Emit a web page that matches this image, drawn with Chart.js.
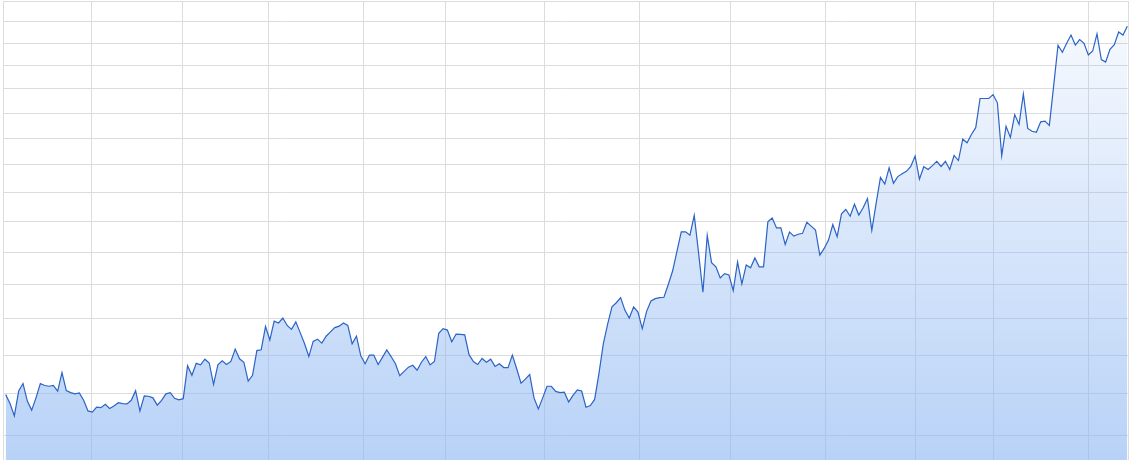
<!DOCTYPE html>
<html>
<head>
<meta charset="utf-8">
<script src="https://cdn.jsdelivr.net/npm/chart.js@4.4.1/dist/chart.umd.min.js"></script>
<style>
  html, body { margin: 0; padding: 0; background: #ffffff; }
  #wrap { width: 1132px; height: 462px; position: relative; }
</style>
</head>
<body>
<div id="wrap"><canvas id="c"></canvas></div>
<script>
// Daily closing values (one point per trading day, ~1 year)
const closes = [
  144.8, 142.6, 139.6, 145.7, 147.6, 143.2, 141.0, 144.0, 147.6, 147.1,
  146.9, 147.1, 145.7, 150.4, 145.8, 145.3, 145.0, 145.2, 143.4, 140.8,
  140.5, 141.7, 141.6, 142.4, 141.4, 142.0, 142.8, 142.6, 142.5, 143.4,
  145.8, 140.8, 144.5, 144.4, 144.0, 142.2, 143.4, 145.0, 145.3, 143.9,
  143.5, 143.8, 152.2, 149.7, 152.8, 152.4, 153.9, 152.9, 147.4, 152.4,
  153.5, 152.5, 153.3, 156.6, 154.0, 153.1, 148.2, 149.7, 156.2, 156.4,
  162.8, 159.1, 164.3, 163.8, 165.2, 163.1, 162.0, 164.1, 161.1, 158.1,
  154.6, 158.7, 159.3, 158.2, 160.1, 161.3, 162.5, 162.9, 163.8, 163.1,
  158.0, 160.1, 154.8, 152.7, 155.0, 155.0, 152.5, 154.4, 156.4, 154.6,
  152.7, 149.6, 150.7, 151.8, 152.3, 151.0, 153.1, 154.6, 152.4, 153.3,
  160.9, 162.2, 161.8, 158.6, 160.7, 160.6, 160.5, 155.1, 153.3, 152.5,
  154.1, 153.1, 153.9, 152.0, 152.7, 151.7, 151.7, 155.0, 151.4, 147.7,
  148.7, 149.9, 144.0, 141.3, 144.0, 146.9, 146.9, 145.6, 145.3, 145.4,
  143.0, 144.6, 146.0, 145.7, 141.7, 142.1, 143.6, 150.2, 158.0, 163.5,
  168.4, 169.6, 171.1, 167.4, 165.2, 168.4, 166.9, 162.2, 167.1, 170.1,
  170.8, 171.1, 171.2, 175.0, 179.1, 185.3, 191.6, 191.6, 190.5, 197.1,
  184.8, 172.7, 190.4, 181.7, 180.4, 177.0, 178.3, 177.9, 173.2, 181.9,
  175.2, 181.0, 180.1, 183.2, 180.4, 180.4, 194.9, 196.2, 192.9, 192.9,
  187.5, 191.5, 190.2, 190.8, 191.1, 194.8, 193.5, 192.2, 184.1, 186.2,
  188.9, 194.0, 190.0, 197.6, 199.1, 196.8, 200.9, 197.2, 199.7, 202.9,
  192.1, 201.2, 210.4, 208.0, 213.9, 208.3, 210.7, 211.7, 212.6, 214.4,
  218.3, 209.8, 214.3, 213.3, 214.7, 216.3, 214.4, 216.3, 213.3, 218.5,
  216.6, 224.7, 223.3, 226.5, 229.2, 241.0, 241.0, 241.0, 242.6, 239.2,
  218.4, 229.7, 225.4, 234.4, 230.5, 242.9, 228.9, 227.8, 227.4, 231.5,
  231.8, 230.1, 246.4, 264.1, 260.9, 265.0, 268.8, 264.2, 266.7, 265.0,
  259.7, 261.5, 269.3, 257.7, 256.6, 262.3, 264.4, 270.2, 268.8, 272.9
];

// Day index of each point
const days = closes.map((_, i) => i);

// Month boundaries (in trading-day index) where vertical grid lines fall
const monthBreaks = [19.8, 40.8, 60.7, 82.6, 101.6, 124.4, 146.3, 167.3, 189.4, 210.1, 228.1, 250.0];

// Price levels of the horizontal grid lines (log scale)
const priceLevels = [135, 145, 155, 165, 175, 185, 195, 205, 215, 225, 235, 245, 255, 265, 275, 285];

// Axis range
const xRange = [-0.62, 259.16];
const yRange = [129.4, 285];

const points = days.map((d, i) => ({ x: d, y: closes[i] }));

function areaGradient(context) {
  const chart = context.chart;
  const area = chart.chartArea;
  if (!area) return 'rgba(140,182,242,0.4)';
  const g = chart.ctx.createLinearGradient(0, area.bottom, 0, area.top);
  g.addColorStop(0, 'rgba(140,182,242,0.62)');
  g.addColorStop(1, 'rgba(140,182,242,0.05)');
  return g;
}

new Chart(document.getElementById('c'), {
  type: 'line',
  data: {
    datasets: [{
      data: points,
      borderColor: '#2b63c6',
      borderWidth: 1.2,
      backgroundColor: areaGradient,
      fill: 'start',
      pointRadius: 0,
      pointHoverRadius: 0,
      tension: 0
    }]
  },
  options: {
    responsive: true,
    maintainAspectRatio: false,
    animation: false,
    devicePixelRatio: 1,
    layout: { padding: { left: 3, right: 4, top: 1, bottom: 2 } },
    plugins: { legend: { display: false }, tooltip: { enabled: false } },
    scales: {
      x: {
        type: 'linear',
        min: xRange[0],
        max: xRange[1],
        bounds: 'data',
        afterBuildTicks: (scale) => {
          scale.ticks = [xRange[0], ...monthBreaks, xRange[1]].map(v => ({ value: v }));
        },
        ticks: { display: false },
        grid: { color: '#dcdcdc', lineWidth: 1, drawTicks: false },
        border: { display: false }
      },
      y: {
        type: 'logarithmic',
        min: yRange[0],
        max: yRange[1],
        bounds: 'data',
        afterBuildTicks: (scale) => {
          scale.ticks = priceLevels.map(v => ({ value: v }));
        },
        ticks: { display: false },
        grid: { color: '#dcdcdc', lineWidth: 1, drawTicks: false },
        border: { display: false }
      }
    }
  }
});
</script>
</body>
</html>
